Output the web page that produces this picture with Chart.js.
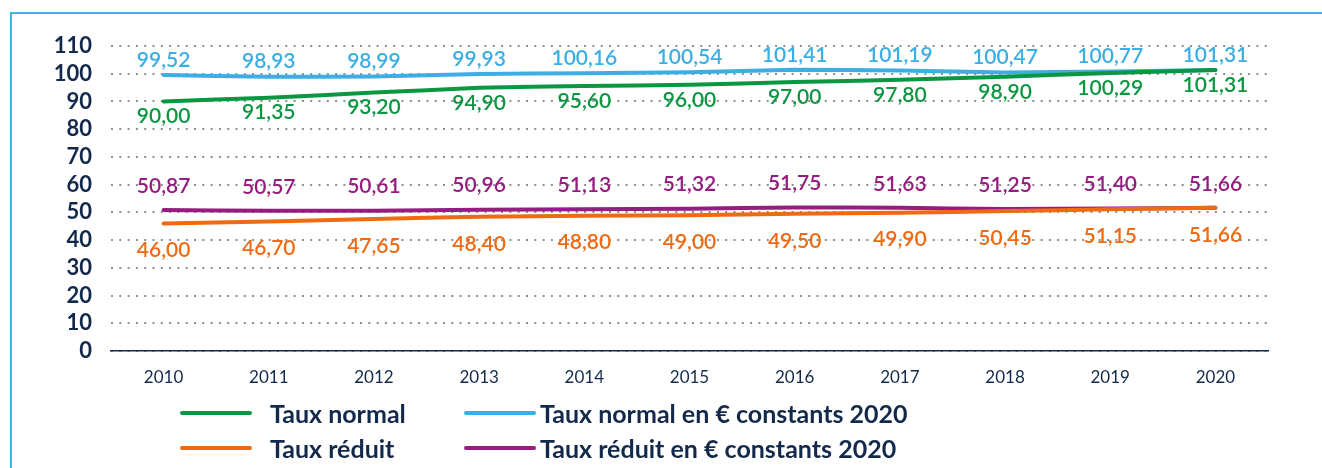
<!DOCTYPE html>
<html lang="fr">
<head>
<meta charset="utf-8">
<title>Taux normal / taux réduit 2010-2020</title>
<script src="https://cdn.jsdelivr.net/npm/chart.js@4.4.1/dist/chart.umd.min.js"></script>
<style>
  html, body { margin: 0; padding: 0; background: #fff; }
  body { width: 1322px; height: 468px; position: relative; overflow: hidden; font-family: Lato, "Noto Sans", sans-serif; }
  #frame { position: absolute; left: 10px; top: 12px; right: 0; bottom: 0; border-top: 2px solid #41b1e6; border-left: 2px solid #41b1e6; }
  #wrap { position: absolute; left: 0; top: 0; width: 1322px; height: 468px; }
  #legend { position: absolute; left: 0; top: 0; width: 1322px; height: 468px; pointer-events: none; }
  .lg-line { position: absolute; width: 72px; height: 4px; border-radius: 2px; }
  .lg-text { position: absolute; font-weight: bold; font-size: 25px; color: #13294b; line-height: 28px; white-space: nowrap; }
</style>
</head>
<body>
<div id="frame"></div>
<div id="wrap"><canvas id="tauxChart"></canvas></div>
<div id="legend"></div>
<script>
// données 2010-2020
const years = ['2010', '2011', '2012', '2013', '2014', '2015', '2016', '2017', '2018', '2019', '2020'];
const tauxNormal = [90.00, 91.35, 93.20, 94.90, 95.60, 96.00, 97.00, 97.80, 98.90, 100.29, 101.31];
const tauxNormalConstants = [99.52, 98.93, 98.99, 99.93, 100.16, 100.54, 101.41, 101.19, 100.47, 100.77, 101.31];
const tauxReduit = [46.00, 46.70, 47.65, 48.40, 48.80, 49.00, 49.50, 49.90, 50.45, 51.15, 51.66];
const tauxReduitConstants = [50.87, 50.57, 50.61, 50.96, 51.13, 51.32, 51.75, 51.63, 51.25, 51.40, 51.66];
const yTicks = [0, 10, 20, 30, 40, 50, 60, 70, 80, 90, 100, 110];

const navy = '#13294b';
const colors = {
    green: '#0b9641',
    blue: '#3caee3',
    orange: '#ee6b14',
    purple: '#961d7f'
};

// étiquettes de valeur au-dessus / en dessous des courbes
const valueLabels = {
    id: 'valueLabels',
    afterDatasetsDraw(chart) {
        const ctx = chart.ctx;
        ctx.save();
        ctx.font = '600 21px Lato, "Noto Sans", sans-serif';
        ctx.textAlign = 'center';
        ctx.textBaseline = 'middle';
        chart.data.datasets.forEach((ds, i) => {
            const meta = chart.getDatasetMeta(i);
            ctx.fillStyle = ds.borderColor;
            meta.data.forEach((pt, j) => {
                const txt = ds.data[j].toFixed(2).replace('.', ',');
                ctx.fillText(txt, pt.x, pt.y + ds.labelOffset);
            });
        });
        ctx.restore();
    }
};

const ctx = document.getElementById('tauxChart').getContext('2d');
const chart = new Chart(ctx, {
    type: 'line',
    data: {
        labels: years,
        datasets: [{
            label: 'Taux normal',
            data: tauxNormal,
            borderColor: colors.green,
            labelOffset: 15,
            order: 0
        }, {
            label: 'Taux normal en € constants 2020',
            data: tauxNormalConstants,
            borderColor: colors.blue,
            labelOffset: -15,
            order: 1
        }, {
            label: 'Taux réduit',
            data: tauxReduit,
            borderColor: colors.orange,
            labelOffset: 27,
            order: 0
        }, {
            label: 'Taux réduit en € constants 2020',
            data: tauxReduitConstants,
            borderColor: colors.purple,
            labelOffset: -24,
            order: 1
        }]
    },
    options: {
        responsive: true,
        maintainAspectRatio: false,
        animation: false,
        devicePixelRatio: 1,
        layout: { padding: { top: 46, right: 54, left: 0, bottom: 0 } },
        elements: {
            line: { borderWidth: 4, tension: 0.15, borderCapStyle: 'round', fill: false },
            point: { radius: 0, hoverRadius: 0 }
        },
        plugins: {
            legend: { display: false },
            tooltip: { enabled: false }
        },
        scales: {
            x: {
                offset: true,
                grid: { display: false, drawTicks: false },
                border: { display: true, color: navy, width: 1.5 },
                ticks: {
                    color: navy,
                    padding: 16,
                    autoSkip: false,
                    maxRotation: 0,
                    font: { family: 'Lato', size: 17 }
                },
                afterFit(scale) { scale.height = 468 - 351; }
            },
            y: {
                min: 0,
                max: 110,
                afterBuildTicks(scale) { scale.ticks = yTicks.map(v => ({ value: v })); },
                grid: {
                    color: '#8f8f8f',
                    lineWidth: 2,
                    drawTicks: false
                },
                border: { display: false, dash: [2, 6.3] },
                ticks: {
                    color: navy,
                    padding: 19,
                    autoSkip: false,
                    font: { family: 'Lato', size: 22, weight: 'bold' }
                },
                afterFit(scale) { scale.width = 111; }
            }
        }
    },
    plugins: [valueLabels]
});

// légende sur deux colonnes
const legendSlots = [
    { line: 180, text: 270, y: 413 },
    { line: 464, text: 540, y: 413 },
    { line: 180, text: 270, y: 448 },
    { line: 464, text: 540, y: 448 }
];
const legendBox = document.getElementById('legend');
chart.data.datasets.forEach((ds, i) => {
    const slot = legendSlots[i];
    const line = document.createElement('div');
    line.className = 'lg-line';
    line.style.left = slot.line + 'px';
    line.style.top = (slot.y - 2) + 'px';
    line.style.background = ds.borderColor;
    const txt = document.createElement('div');
    txt.className = 'lg-text';
    txt.style.left = slot.text + 'px';
    txt.style.top = (slot.y - 14) + 'px';
    txt.textContent = ds.label;
    legendBox.appendChild(line);
    legendBox.appendChild(txt);
});
</script>
</body>
</html>
